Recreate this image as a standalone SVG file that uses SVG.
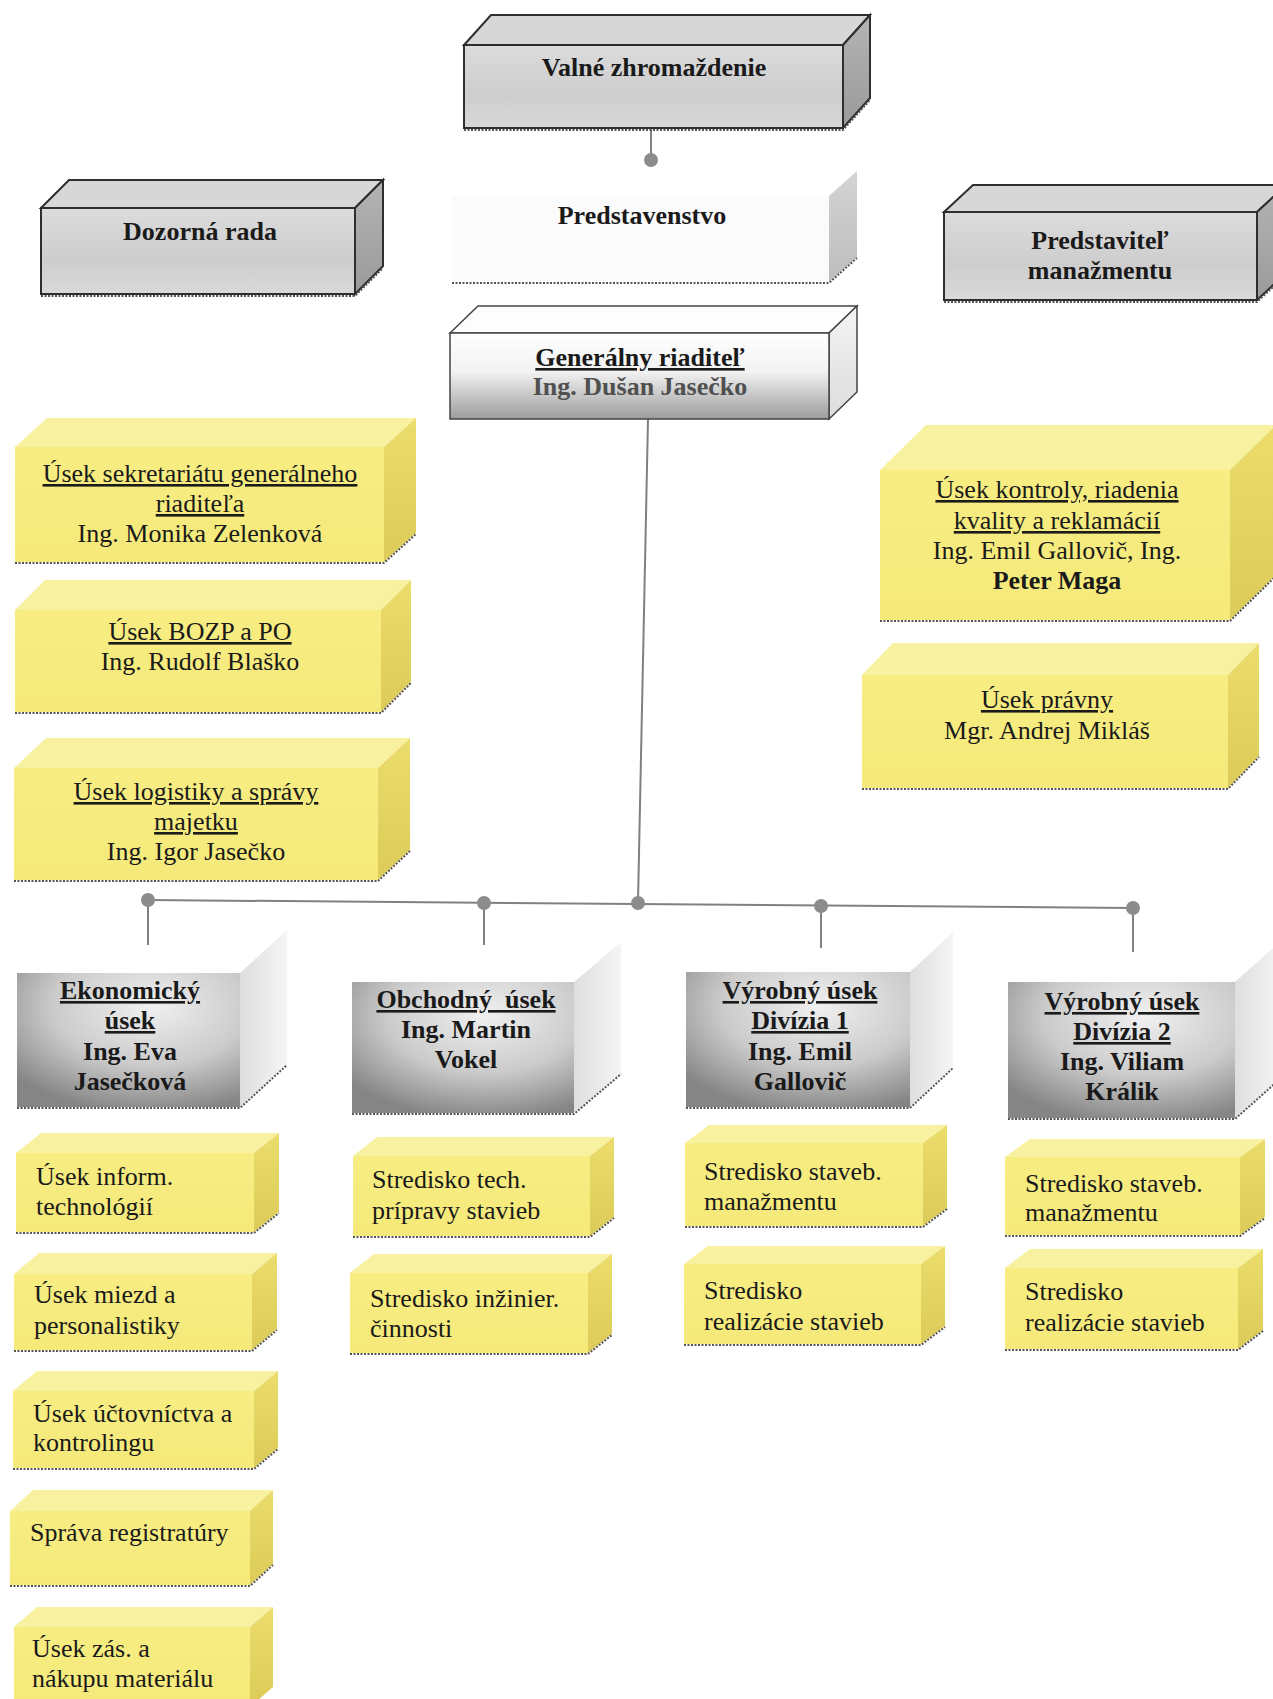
<svg xmlns="http://www.w3.org/2000/svg" width="1273" height="1699" viewBox="0 0 1273 1699">
<defs>
<linearGradient id="gFront" x1="0" y1="0" x2="0" y2="1"><stop offset="0" stop-color="#dcdcdc"/><stop offset="0.6" stop-color="#cdcdcd"/><stop offset="1" stop-color="#d9d9d9"/></linearGradient>
<linearGradient id="gSide" x1="0" y1="0" x2="0" y2="1"><stop offset="0" stop-color="#b4b4b4"/><stop offset="1" stop-color="#9a9a9a"/></linearGradient>
<linearGradient id="grFront" x1="0" y1="0" x2="0" y2="1"><stop offset="0" stop-color="#ffffff"/><stop offset="0.45" stop-color="#f2f2f2"/><stop offset="1" stop-color="#9c9c9c"/></linearGradient>
<linearGradient id="grSide" x1="0" y1="0" x2="0" y2="1"><stop offset="0" stop-color="#f4f4f4"/><stop offset="1" stop-color="#dcdcdc"/></linearGradient>
<linearGradient id="psSide" x1="0" y1="0" x2="0" y2="1"><stop offset="0" stop-color="#d4d4d4"/><stop offset="1" stop-color="#bdbdbd"/></linearGradient>
<radialGradient id="mFront" cx="0.6" cy="0.25" r="0.8"><stop offset="0" stop-color="#f0f0f0"/><stop offset="0.55" stop-color="#cbcbcb"/><stop offset="1" stop-color="#858585"/></radialGradient>
<linearGradient id="mSide" x1="0" y1="0" x2="1" y2="0"><stop offset="0" stop-color="#dedede"/><stop offset="1" stop-color="#f5f5f5"/></linearGradient>
<linearGradient id="ySide" x1="0" y1="0" x2="0" y2="1"><stop offset="0" stop-color="#ebdc6c"/><stop offset="1" stop-color="#dccb58"/></linearGradient>
<linearGradient id="yFront" x1="0" y1="0" x2="0" y2="1"><stop offset="0" stop-color="#f7ed82"/><stop offset="1" stop-color="#f5e97a"/></linearGradient>
</defs>
<style>
.gf{fill:url(#gFront);stroke:#2e2e2e;stroke-width:2}
.gt{fill:#d7d7d7;stroke:#2e2e2e;stroke-width:2}
.gs{fill:url(#gSide);stroke:#2e2e2e;stroke-width:2}
.yf{fill:url(#yFront)}
.yt{fill:#f8f1a0}
.ys{fill:url(#ySide)}
.mf{fill:url(#mFront)}
.ms{fill:url(#mSide)}
.sh{fill:none;stroke:#555;stroke-width:2;stroke-dasharray:2 1.5}
.conn{stroke:#808080;stroke-width:2;fill:none}
.dot{fill:#8c8c8c}
text{font-family:"Liberation Serif","Times New Roman",serif;font-size:26px;fill:#1a1a1a}
.b{font-weight:bold}
.c{text-anchor:middle}
.u{text-decoration:underline}
</style>

<g id="connectors">
<line class="conn" x1="651" y1="128" x2="651" y2="160"/>
<circle class="dot" cx="651" cy="160" r="7"/>
<line class="conn" x1="648" y1="419" x2="638" y2="902"/>
<line class="conn" x1="148" y1="900" x2="1133" y2="908"/>
<line class="conn" x1="148" y1="900" x2="148" y2="945"/>
<line class="conn" x1="484" y1="903" x2="484" y2="945"/>
<line class="conn" x1="821" y1="906" x2="821" y2="948"/>
<line class="conn" x1="1133" y1="908" x2="1133" y2="952"/>
<circle class="dot" cx="148" cy="900" r="7"/>
<circle class="dot" cx="484" cy="903" r="7"/>
<circle class="dot" cx="638" cy="903" r="7"/>
<circle class="dot" cx="821" cy="906" r="7"/>
<circle class="dot" cx="1133" cy="908" r="7"/>
</g>

<g id="valne">
<polygon class="gt" points="464,45 491,15 870,15 843,45"/>
<polygon class="gs" points="843,45 870,15 870,98 843,128"/>
<rect class="gf" x="464" y="45" width="379" height="83"/>
<path class="sh" d="M464,130 H843 L870,100"/>
<text class="b c" x="654" y="76">Valné zhromaždenie</text>
</g>

<g id="predstavenstvo">
<rect x="452" y="196" width="377" height="86" fill="#fbfbfb"/>
<polygon points="829,196 857,171 857,257 829,282" fill="url(#psSide)"/>
<path class="sh" d="M452,283 H829 L857,258"/>
<text class="b c" x="642" y="224">Predstavenstvo</text>
</g>

<g id="dozorna">
<polygon class="gt" points="41,208 69,180 383,180 355,208"/>
<polygon class="gs" points="355,208 383,180 383,266 355,294"/>
<rect class="gf" x="41" y="208" width="314" height="86"/>
<path class="sh" d="M41,296 H355 L383,268"/>
<text class="b c" x="200" y="240">Dozorná rada</text>
</g>

<g id="predstavitel">
<polygon class="gt" points="944,212 973,185 1286,185 1257,212"/>
<polygon class="gs" points="1257,212 1286,185 1286,273 1257,300"/>
<rect class="gf" x="944" y="212" width="313" height="88"/>
<path class="sh" d="M944,302 H1257 L1286,275"/>
<text class="b c" x="1100" y="249">Predstaviteľ</text>
<text class="b c" x="1100" y="279">manažmentu</text>
</g>

<g id="generalny">
<polygon points="450,333 478,306 857,306 829,333" fill="#fdfdfd" stroke="#444" stroke-width="1.5"/>
<polygon points="829,333 857,306 857,392 829,419" fill="url(#grSide)" stroke="#444" stroke-width="1.5"/>
<rect x="450" y="333" width="379" height="86" fill="url(#grFront)" stroke="#444" stroke-width="1.5"/>
<text class="b c u" x="640" y="366">Generálny riaditeľ</text>
<text class="b c" x="640" y="395" style="fill:#505050">Ing. Dušan Jasečko</text>
</g>

<g id="sekretariat">
<polygon class="yt" points="15,447 47,418 416,418 384,447"/>
<polygon class="ys" points="384,447 416,418 416,533 384,562"/>
<rect class="yf" x="15" y="447" width="369" height="115"/>
<path class="sh" d="M15,563 H384 L416,534"/>
<text class="c u" x="200" y="482">Úsek sekretariátu generálneho</text>
<text class="c u" x="200" y="512">riaditeľa</text>
<text class="c" x="200" y="542">Ing. Monika Zelenková</text>
</g>

<g id="bozp">
<polygon class="yt" points="15,610 45,580 411,580 381,610"/>
<polygon class="ys" points="381,610 411,580 411,682 381,712"/>
<rect class="yf" x="15" y="610" width="366" height="102"/>
<path class="sh" d="M15,713 H381 L411,683"/>
<text class="c u" x="200" y="640">Úsek BOZP a PO</text>
<text class="c" x="200" y="670">Ing. Rudolf Blaško</text>
</g>

<g id="logistika">
<polygon class="yt" points="14,768 46,738 410,738 378,768"/>
<polygon class="ys" points="378,768 410,738 410,850 378,880"/>
<rect class="yf" x="14" y="768" width="364" height="112"/>
<path class="sh" d="M14,881 H378 L410,851"/>
<text class="c u" x="196" y="800">Úsek logistiky a správy</text>
<text class="c u" x="196" y="830">majetku</text>
<text class="c" x="196" y="860">Ing. Igor Jasečko</text>
</g>

<g id="kontrola">
<polygon class="yt" points="880,470 926,425 1276,425 1230,470"/>
<polygon class="ys" points="1230,470 1276,425 1276,575 1230,620"/>
<rect class="yf" x="880" y="470" width="350" height="150"/>
<path class="sh" d="M880,621 H1230 L1276,576"/>
<text class="c u" x="1057" y="498">Úsek kontroly, riadenia</text>
<text class="c u" x="1057" y="529">kvality a reklamácií</text>
<text class="c" x="1057" y="559">Ing. Emil Gallovič, Ing.</text>
<text class="c b" x="1057" y="589">Peter Maga</text>
</g>

<g id="pravny">
<polygon class="yt" points="862,675 893,643 1259,643 1228,675"/>
<polygon class="ys" points="1228,675 1259,643 1259,756 1228,788"/>
<rect class="yf" x="862" y="675" width="366" height="113"/>
<path class="sh" d="M862,789 H1228 L1259,757"/>
<text class="c u" x="1047" y="708">Úsek právny</text>
<text class="c" x="1047" y="739">Mgr. Andrej Mikláš</text>
</g>

<g id="ekonomicky">
<polygon class="ms" points="240,973 287,930 287,1064 240,1107"/>
<rect class="mf" x="17" y="973" width="223" height="134"/>
<path class="sh" d="M17,1108 H240 L287,1065"/>
<text class="b c u" x="130" y="999">Ekonomický</text>
<text class="b c u" x="130" y="1029">úsek</text>
<text class="b c" x="130" y="1060">Ing. Eva</text>
<text class="b c" x="130" y="1090">Jasečková</text>
</g>

<g id="obchodny">
<polygon class="ms" points="574,982 621,942 621,1073 574,1113"/>
<rect class="mf" x="352" y="982" width="222" height="131"/>
<path class="sh" d="M352,1114 H574 L621,1074"/>
<text class="b c u" x="466" y="1008" xml:space="preserve">Obchodný  úsek</text>
<text class="b c" x="466" y="1038">Ing. Martin</text>
<text class="b c" x="466" y="1068">Vokel</text>
</g>

<g id="vyrobny1">
<polygon class="ms" points="910,972 953,932 953,1067 910,1107"/>
<rect class="mf" x="686" y="972" width="224" height="135"/>
<path class="sh" d="M686,1108 H910 L953,1068"/>
<text class="b c u" x="800" y="999">Výrobný úsek</text>
<text class="b c u" x="800" y="1029">Divízia 1</text>
<text class="b c" x="800" y="1060">Ing. Emil</text>
<text class="b c" x="800" y="1090">Gallovič</text>
</g>

<g id="vyrobny2">
<polygon class="ms" points="1235,982 1280,942 1280,1078 1235,1118"/>
<rect class="mf" x="1008" y="982" width="227" height="136"/>
<path class="sh" d="M1008,1119 H1235 L1280,1079"/>
<text class="b c u" x="1122" y="1010">Výrobný úsek</text>
<text class="b c u" x="1122" y="1040">Divízia 2</text>
<text class="b c" x="1122" y="1070">Ing. Viliam</text>
<text class="b c" x="1122" y="1100">Králik</text>
</g>

<g id="inform">
<polygon class="yt" points="16,1153 41,1133 279,1133 254,1153"/>
<polygon class="ys" points="254,1153 279,1133 279,1212 254,1232"/>
<rect class="yf" x="16" y="1153" width="238" height="79"/>
<path class="sh" d="M16,1233 H254 L279,1213"/>
<text x="36" y="1185">Úsek inform.</text>
<text x="36" y="1215">technológií</text>
</g>

<g id="miezd">
<polygon class="yt" points="14,1274 39,1253 277,1253 252,1274"/>
<polygon class="ys" points="252,1274 277,1253 277,1329 252,1350"/>
<rect class="yf" x="14" y="1274" width="238" height="76"/>
<path class="sh" d="M14,1351 H252 L277,1330"/>
<text x="34" y="1303">Úsek miezd a</text>
<text x="34" y="1334">personalistiky</text>
</g>

<g id="uctovnictvo">
<polygon class="yt" points="13,1391 37,1371 278,1371 254,1391"/>
<polygon class="ys" points="254,1391 278,1371 278,1448 254,1468"/>
<rect class="yf" x="13" y="1391" width="241" height="77"/>
<path class="sh" d="M13,1469 H254 L278,1449"/>
<text x="33" y="1422">Úsek účtovníctva a</text>
<text x="33" y="1451">kontrolingu</text>
</g>

<g id="registratura">
<polygon class="yt" points="10,1511 33,1490 273,1490 250,1511"/>
<polygon class="ys" points="250,1511 273,1490 273,1564 250,1585"/>
<rect class="yf" x="10" y="1511" width="240" height="74"/>
<path class="sh" d="M10,1586 H250 L273,1565"/>
<text x="30" y="1541">Správa registratúry</text>
</g>

<g id="nakup">
<polygon class="yt" points="14,1627 37,1607 273,1607 250,1627"/>
<polygon class="ys" points="250,1627 273,1607 273,1687 250,1707"/>
<rect class="yf" x="14" y="1627" width="236" height="80"/>
<text x="32" y="1657">Úsek zás. a</text>
<text x="32" y="1687">nákupu materiálu</text>
</g>

<g id="tech">
<polygon class="yt" points="353,1156 377,1137 614,1137 590,1156"/>
<polygon class="ys" points="590,1156 614,1137 614,1217 590,1236"/>
<rect class="yf" x="353" y="1156" width="237" height="80"/>
<path class="sh" d="M353,1237 H590 L614,1218"/>
<text x="372" y="1188">Stredisko tech.</text>
<text x="372" y="1219">prípravy stavieb</text>
</g>

<g id="inzinier">
<polygon class="yt" points="350,1273 374,1254 612,1254 588,1273"/>
<polygon class="ys" points="588,1273 612,1254 612,1334 588,1353"/>
<rect class="yf" x="350" y="1273" width="238" height="80"/>
<path class="sh" d="M350,1354 H588 L612,1335"/>
<text x="370" y="1307">Stredisko inžinier.</text>
<text x="370" y="1337">činnosti</text>
</g>

<g id="staveb1">
<polygon class="yt" points="685,1143 709,1125 947,1125 923,1143"/>
<polygon class="ys" points="923,1143 947,1125 947,1208 923,1226"/>
<rect class="yf" x="685" y="1143" width="238" height="83"/>
<path class="sh" d="M685,1227 H923 L947,1209"/>
<text x="704" y="1180">Stredisko staveb.</text>
<text x="704" y="1210">manažmentu</text>
</g>

<g id="realiz1">
<polygon class="yt" points="684,1264 708,1246 945,1246 921,1264"/>
<polygon class="ys" points="921,1264 945,1246 945,1326 921,1344"/>
<rect class="yf" x="684" y="1264" width="237" height="80"/>
<path class="sh" d="M684,1345 H921 L945,1327"/>
<text x="704" y="1299">Stredisko</text>
<text x="704" y="1330">realizácie stavieb</text>
</g>

<g id="staveb2">
<polygon class="yt" points="1005,1157 1030,1139 1265,1139 1240,1157"/>
<polygon class="ys" points="1240,1157 1265,1139 1265,1217 1240,1235"/>
<rect class="yf" x="1005" y="1157" width="235" height="78"/>
<path class="sh" d="M1005,1236 H1240 L1265,1218"/>
<text x="1025" y="1192">Stredisko staveb.</text>
<text x="1025" y="1221">manažmentu</text>
</g>

<g id="realiz2">
<polygon class="yt" points="1005,1268 1030,1249 1263,1249 1238,1268"/>
<polygon class="ys" points="1238,1268 1263,1249 1263,1330 1238,1349"/>
<rect class="yf" x="1005" y="1268" width="233" height="81"/>
<path class="sh" d="M1005,1350 H1238 L1263,1331"/>
<text x="1025" y="1300">Stredisko</text>
<text x="1025" y="1331">realizácie stavieb</text>
</g>
</svg>
